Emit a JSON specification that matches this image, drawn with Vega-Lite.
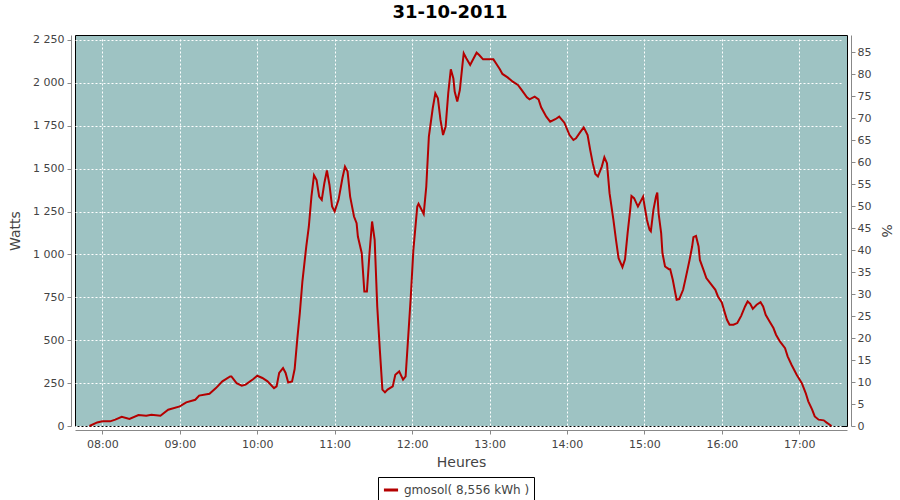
{
  "$schema": "https://vega.github.io/schema/vega-lite/v6.json",
  "width": 772,
  "height": 391,
  "autosize": {"type": "none"},
  "padding": {"left": 75, "top": 35, "right": 53, "bottom": 74},
  "background": "white",
  "title": {"text": "31-10-2011", "fontSize": 18, "font": "DejaVu Sans", "fontWeight": "bold", "color": "black", "offset": 12, "dx": -11},
  "config": {
    "view": {"fill": "#9EC3C3", "stroke": "black", "strokeWidth": 1},
    "axis": {
      "labelFont": "DejaVu Sans", "labelFontSize": 11, "labelColor": "#444444",
      "titleFont": "DejaVu Sans", "titleFontSize": 14, "titleFontWeight": "normal", "titleColor": "#444444",
      "domainColor": "#888888", "tickColor": "#888888", "tickSize": 4, "offset": 4,
      "gridColor": "white", "gridDash": [2, 2], "gridOpacity": 1, "gridWidth": 1
    }
  },
  "layer": [
    {
      "data": {
        "values": [
          {"t":"2011-10-31T07:50","w":0},{"t":"2011-10-31T07:56","w":21},{"t":"2011-10-31T08:00","w":27},{"t":"2011-10-31T08:06","w":27},{"t":"2011-10-31T08:10","w":37},{"t":"2011-10-31T08:15","w":54},{"t":"2011-10-31T08:21","w":41},{"t":"2011-10-31T08:28","w":64},{"t":"2011-10-31T08:34","w":60},{"t":"2011-10-31T08:38","w":66},{"t":"2011-10-31T08:45","w":60},{"t":"2011-10-31T08:51","w":95},{"t":"2011-10-31T09:00","w":114},{"t":"2011-10-31T09:05","w":138},{"t":"2011-10-31T09:12","w":153},{"t":"2011-10-31T09:15","w":177},{"t":"2011-10-31T09:23","w":188},{"t":"2011-10-31T09:28","w":221},{"t":"2011-10-31T09:33","w":260},{"t":"2011-10-31T09:39","w":289},{"t":"2011-10-31T09:40","w":289},{"t":"2011-10-31T09:44","w":250},{"t":"2011-10-31T09:48","w":235},{"t":"2011-10-31T09:51","w":241},{"t":"2011-10-31T09:57","w":274},{"t":"2011-10-31T10:00","w":293},{"t":"2011-10-31T10:04","w":280},{"t":"2011-10-31T10:08","w":260},{"t":"2011-10-31T10:13","w":221},{"t":"2011-10-31T10:15","w":231},{"t":"2011-10-31T10:17","w":309},{"t":"2011-10-31T10:20","w":338},{"t":"2011-10-31T10:22","w":309},{"t":"2011-10-31T10:24","w":254},{"t":"2011-10-31T10:27","w":260},{"t":"2011-10-31T10:29","w":332},{"t":"2011-10-31T10:31","w":503},{"t":"2011-10-31T10:33","w":658},{"t":"2011-10-31T10:35","w":842},{"t":"2011-10-31T10:38","w":1046},{"t":"2011-10-31T10:40","w":1163},{"t":"2011-10-31T10:42","w":1337},{"t":"2011-10-31T10:44","w":1462},{"t":"2011-10-31T10:46","w":1434},{"t":"2011-10-31T10:48","w":1337},{"t":"2011-10-31T10:50","w":1318},{"t":"2011-10-31T10:52","w":1415},{"t":"2011-10-31T10:54","w":1489},{"t":"2011-10-31T10:56","w":1405},{"t":"2011-10-31T10:58","w":1279},{"t":"2011-10-31T11:00","w":1250},{"t":"2011-10-31T11:03","w":1318},{"t":"2011-10-31T11:06","w":1444},{"t":"2011-10-31T11:08","w":1512},{"t":"2011-10-31T11:10","w":1483},{"t":"2011-10-31T11:12","w":1337},{"t":"2011-10-31T11:15","w":1221},{"t":"2011-10-31T11:17","w":1182},{"t":"2011-10-31T11:18","w":1104},{"t":"2011-10-31T11:21","w":1007},{"t":"2011-10-31T11:23","w":784},{"t":"2011-10-31T11:25","w":784},{"t":"2011-10-31T11:27","w":1007},{"t":"2011-10-31T11:29","w":1192},{"t":"2011-10-31T11:31","w":1085},{"t":"2011-10-31T11:33","w":697},{"t":"2011-10-31T11:35","w":445},{"t":"2011-10-31T11:37","w":212},{"t":"2011-10-31T11:39","w":196},{"t":"2011-10-31T11:41","w":212},{"t":"2011-10-31T11:45","w":231},{"t":"2011-10-31T11:47","w":299},{"t":"2011-10-31T11:50","w":318},{"t":"2011-10-31T11:53","w":270},{"t":"2011-10-31T11:55","w":289},{"t":"2011-10-31T11:57","w":522},{"t":"2011-10-31T11:59","w":755},{"t":"2011-10-31T12:01","w":1027},{"t":"2011-10-31T12:04","w":1279},{"t":"2011-10-31T12:05","w":1295},{"t":"2011-10-31T12:09","w":1236},{"t":"2011-10-31T12:11","w":1396},{"t":"2011-10-31T12:13","w":1687},{"t":"2011-10-31T12:16","w":1852},{"t":"2011-10-31T12:18","w":1939},{"t":"2011-10-31T12:20","w":1910},{"t":"2011-10-31T12:22","w":1784},{"t":"2011-10-31T12:24","w":1696},{"t":"2011-10-31T12:26","w":1745},{"t":"2011-10-31T12:28","w":1939},{"t":"2011-10-31T12:30","w":2079},{"t":"2011-10-31T12:32","w":2026},{"t":"2011-10-31T12:33","w":1949},{"t":"2011-10-31T12:35","w":1891},{"t":"2011-10-31T12:37","w":1958},{"t":"2011-10-31T12:39","w":2104},{"t":"2011-10-31T12:40","w":2172},{"t":"2011-10-31T12:42","w":2143},{"t":"2011-10-31T12:45","w":2104},{"t":"2011-10-31T12:47","w":2133},{"t":"2011-10-31T12:50","w":2176},{"t":"2011-10-31T12:52","w":2162},{"t":"2011-10-31T12:55","w":2137},{"t":"2011-10-31T12:59","w":2137},{"t":"2011-10-31T13:03","w":2137},{"t":"2011-10-31T13:05","w":2114},{"t":"2011-10-31T13:08","w":2079},{"t":"2011-10-31T13:10","w":2052},{"t":"2011-10-31T13:14","w":2032},{"t":"2011-10-31T13:18","w":2007},{"t":"2011-10-31T13:22","w":1988},{"t":"2011-10-31T13:25","w":1958},{"t":"2011-10-31T13:29","w":1916},{"t":"2011-10-31T13:31","w":1904},{"t":"2011-10-31T13:35","w":1920},{"t":"2011-10-31T13:38","w":1904},{"t":"2011-10-31T13:40","w":1858},{"t":"2011-10-31T13:44","w":1803},{"t":"2011-10-31T13:47","w":1774},{"t":"2011-10-31T13:51","w":1788},{"t":"2011-10-31T13:54","w":1803},{"t":"2011-10-31T13:58","w":1768},{"t":"2011-10-31T14:02","w":1696},{"t":"2011-10-31T14:05","w":1667},{"t":"2011-10-31T14:07","w":1677},{"t":"2011-10-31T14:10","w":1710},{"t":"2011-10-31T14:13","w":1741},{"t":"2011-10-31T14:16","w":1696},{"t":"2011-10-31T14:18","w":1609},{"t":"2011-10-31T14:20","w":1532},{"t":"2011-10-31T14:22","w":1469},{"t":"2011-10-31T14:24","w":1454},{"t":"2011-10-31T14:27","w":1512},{"t":"2011-10-31T14:29","w":1566},{"t":"2011-10-31T14:31","w":1532},{"t":"2011-10-31T14:33","w":1357},{"t":"2011-10-31T14:36","w":1201},{"t":"2011-10-31T14:38","w":1085},{"t":"2011-10-31T14:40","w":978},{"t":"2011-10-31T14:43","w":926},{"t":"2011-10-31T14:45","w":972},{"t":"2011-10-31T14:47","w":1124},{"t":"2011-10-31T14:49","w":1260},{"t":"2011-10-31T14:50","w":1341},{"t":"2011-10-31T14:52","w":1328},{"t":"2011-10-31T14:55","w":1279},{"t":"2011-10-31T14:57","w":1308},{"t":"2011-10-31T14:59","w":1337},{"t":"2011-10-31T15:00","w":1289},{"t":"2011-10-31T15:02","w":1201},{"t":"2011-10-31T15:04","w":1143},{"t":"2011-10-31T15:05","w":1134},{"t":"2011-10-31T15:07","w":1260},{"t":"2011-10-31T15:09","w":1337},{"t":"2011-10-31T15:10","w":1361},{"t":"2011-10-31T15:11","w":1240},{"t":"2011-10-31T15:13","w":1124},{"t":"2011-10-31T15:14","w":1007},{"t":"2011-10-31T15:16","w":930},{"t":"2011-10-31T15:19","w":914},{"t":"2011-10-31T15:20","w":914},{"t":"2011-10-31T15:22","w":852},{"t":"2011-10-31T15:24","w":774},{"t":"2011-10-31T15:25","w":736},{"t":"2011-10-31T15:27","w":740},{"t":"2011-10-31T15:30","w":794},{"t":"2011-10-31T15:32","w":862},{"t":"2011-10-31T15:35","w":968},{"t":"2011-10-31T15:37","w":1046},{"t":"2011-10-31T15:38","w":1101},{"t":"2011-10-31T15:40","w":1108},{"t":"2011-10-31T15:42","w":1046},{"t":"2011-10-31T15:43","w":968},{"t":"2011-10-31T15:46","w":906},{"t":"2011-10-31T15:48","w":862},{"t":"2011-10-31T15:51","w":833},{"t":"2011-10-31T15:55","w":794},{"t":"2011-10-31T15:57","w":755},{"t":"2011-10-31T16:00","w":720},{"t":"2011-10-31T16:02","w":668},{"t":"2011-10-31T16:04","w":619},{"t":"2011-10-31T16:06","w":590},{"t":"2011-10-31T16:09","w":590},{"t":"2011-10-31T16:12","w":600},{"t":"2011-10-31T16:15","w":642},{"t":"2011-10-31T16:18","w":697},{"t":"2011-10-31T16:20","w":726},{"t":"2011-10-31T16:22","w":712},{"t":"2011-10-31T16:24","w":683},{"t":"2011-10-31T16:27","w":707},{"t":"2011-10-31T16:30","w":722},{"t":"2011-10-31T16:32","w":697},{"t":"2011-10-31T16:34","w":648},{"t":"2011-10-31T16:37","w":609},{"t":"2011-10-31T16:40","w":571},{"t":"2011-10-31T16:42","w":532},{"t":"2011-10-31T16:45","w":493},{"t":"2011-10-31T16:49","w":454},{"t":"2011-10-31T16:51","w":406},{"t":"2011-10-31T16:54","w":357},{"t":"2011-10-31T16:58","w":299},{"t":"2011-10-31T17:02","w":250},{"t":"2011-10-31T17:05","w":192},{"t":"2011-10-31T17:07","w":144},{"t":"2011-10-31T17:10","w":95},{"t":"2011-10-31T17:12","w":56},{"t":"2011-10-31T17:15","w":37},{"t":"2011-10-31T17:19","w":33},{"t":"2011-10-31T17:21","w":21},{"t":"2011-10-31T17:25","w":0}
        ]
      },
      "mark": {"type": "line", "strokeWidth": 2, "interpolate": "linear"},
      "encoding": {
        "x": {
          "field": "t", "type": "temporal",
          "scale": {"domain": [{"year": 2011, "month": 10, "date": 31, "hours": 7, "minutes": 38, "seconds": 48}, {"year": 2011, "month": 10, "date": 31, "hours": 17, "minutes": 37}], "nice": false},
          "axis": {"format": "%H:%M", "tickCount": 10, "title": "Heures", "labelPadding": 4, "titlePadding": 6, "grid": true}
        },
        "y": {
          "field": "w", "type": "quantitative",
          "scale": {"domain": [0, 2279], "nice": false},
          "axis": {"values": [0, 250, 500, 750, 1000, 1250, 1500, 1750, 2000, 2250], "labelExpr": "datum.value >= 1000 ? floor(datum.value / 1000) + ' ' + format(datum.value % 1000, '03d') : format(datum.value, 'd')", "title": "Watts", "titlePadding": 10, "grid": true, "labelPadding": 3}
        },
        "color": {
          "datum": "gmosol( 8,556 kWh )",
          "type": "nominal",
          "scale": {"range": ["#B40000"]},
          "legend": {"title": null, "orient": "none", "legendX": 303, "legendY": 442, "strokeColor": "black", "fillColor": "white", "padding": 4, "labelFont": "DejaVu Sans", "labelFontSize": 12, "labelColor": "#444444", "symbolType": "stroke", "symbolStrokeWidth": 3, "symbolSize": 200, "labelOffset": 4}
        }
      }
    },
    {
      "data": {"values": [{"p": 0}]},
      "mark": {"type": "point", "opacity": 0},
      "encoding": {
        "y": {
          "field": "p", "type": "quantitative",
          "scale": {"domain": [0, 88.95], "nice": false},
          "axis": {"orient": "right", "title": "%", "values": [0, 5, 10, 15, 20, 25, 30, 35, 40, 45, 50, 55, 60, 65, 70, 75, 80, 85], "grid": false, "labelPadding": 2, "titlePadding": 8}
        }
      }
    }
  ],
  "resolve": {"scale": {"y": "independent"}}
}
